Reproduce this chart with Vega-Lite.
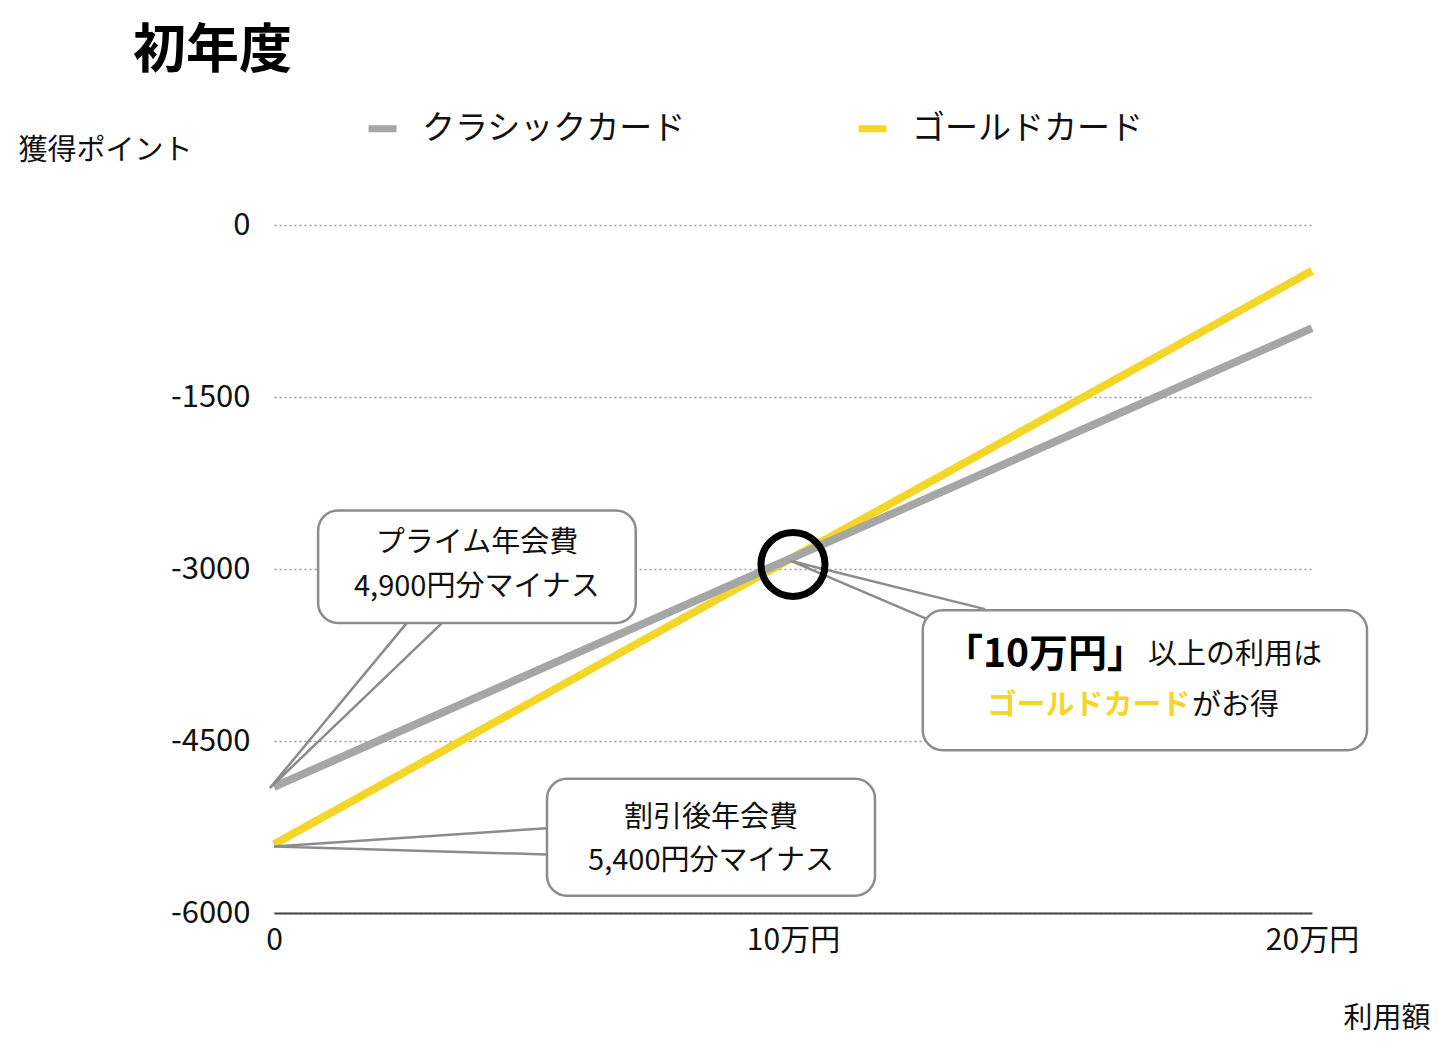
{
  "$schema": "https://vega.github.io/schema/vega-lite/v6.json",
  "width": 1038,
  "height": 688,
  "autosize": {"type": "none"},
  "padding": {"left": 274, "top": 225, "right": 138, "bottom": 139},
  "background": "white",
  "title": {
    "text": "初年度",
    "anchor": "start",
    "frame": "group",
    "dx": -141,
    "offset": 32,
    "fontSize": 53,
    "fontWeight": "bold",
    "font": "Noto Sans CJK JP",
    "color": "#000000"
  },
  "config": {
    "font": "Noto Sans CJK JP",
    "view": {"stroke": null},
    "axis": {"labelFont": "Noto Sans CJK JP", "titleFont": "Noto Sans CJK JP", "labelColor": "#111111", "titleColor": "#111111", "titleFontWeight": "normal"},
    "legend": {"labelFont": "Noto Sans CJK JP"}
  },
  "datasets": {
    "cards": [
      {"card": "ゴールドカード", "amount": 0, "points": -5400},
      {"card": "ゴールドカード", "amount": 200000, "points": -400},
      {"card": "クラシックカード", "amount": 0, "points": -4900},
      {"card": "クラシックカード", "amount": 200000, "points": -900}
    ],
    "tails": [
      {"tail": "prime", "ord": 1, "x": 25600, "y": -3470},
      {"tail": "prime", "ord": 2, "x": -800, "y": -4910},
      {"tail": "prime", "ord": 3, "x": 32400, "y": -3470},
      {"tail": "discount", "ord": 1, "x": 52600, "y": -5260},
      {"tail": "discount", "ord": 2, "x": 0, "y": -5420},
      {"tail": "discount", "ord": 3, "x": 52600, "y": -5490},
      {"tail": "cross", "ord": 1, "x": 137000, "y": -3350},
      {"tail": "cross", "ord": 2, "x": 99600, "y": -2930},
      {"tail": "cross", "ord": 3, "x": 126000, "y": -3440}
    ],
    "boxes": [
      {"box": "prime", "x": 8500, "x2": 69700, "y": -2490, "y2": -3470},
      {"box": "cross", "x": 125000, "x2": 210600, "y": -3360, "y2": -4580},
      {"box": "discount", "x": 52600, "x2": 115800, "y": -4830, "y2": -5850}
    ],
    "circle": [
      {"x": 100000, "y": -2960}
    ],
    "notes": [
      {"x": 39100, "y": -2773, "text": "プライム年会費"},
      {"x": 39100, "y": -3160, "text": "4,900円分マイナス"},
      {"x": 84200, "y": -5171, "text": "割引後年会費"},
      {"x": 84200, "y": -5546, "text": "5,400円分マイナス"}
    ],
    "boldNote": [
      {"x": 168000, "y": -3750, "text": "「10万円」"}
    ],
    "plainNote": [
      {"x": 168400, "y": -3750, "text": "以上の利用は"},
      {"x": 176900, "y": -4195, "text": "がお得"}
    ],
    "goldNote": [
      {"x": 176600, "y": -4195, "text": "ゴールドカード"}
    ]
  },
  "layer": [
    {
      "data": {"name": "cards"},
      "mark": {"type": "line", "strokeWidth": 8, "strokeCap": "butt"},
      "encoding": {
        "x": {
          "field": "amount", "type": "quantitative",
          "scale": {"domain": [0, 200000], "nice": false, "zero": false},
          "axis": {
            "values": [0, 100000, 200000],
            "labelExpr": "datum.value == 0 ? '0' : (datum.value / 10000) + '万円'",
            "labelFontSize": 30,
            "labelPadding": 12,
            "labelFlush": false,
            "ticks": false,
            "grid": false,
            "domain": true,
            "domainColor": "#444444",
            "domainWidth": 2,
            "title": "利用額",
            "titleFontSize": 29,
            "titleAngle": 0,
            "titleAlign": "right",
            "titleBaseline": "middle",
            "titleX": 1156,
            "titleY": 105
          }
        },
        "y": {
          "field": "points", "type": "quantitative",
          "scale": {"domain": [-6000, 0], "nice": false, "zero": false},
          "axis": {
            "values": [0, -1500, -3000, -4500, -6000],
            "labelExpr": "datum.value + ''",
            "labelFontSize": 31,
            "labelPadding": 24,
            "ticks": false,
            "domain": false,
            "grid": true,
            "gridDash": [2, 3],
            "gridColor": "#999999",
            "gridWidth": 1.5,
            "title": "獲得ポイント",
            "titleFontSize": 29,
            "titleAngle": 0,
            "titleAlign": "left",
            "titleBaseline": "middle",
            "titleX": -256,
            "titleY": -75
          }
        },
        "color": {
          "field": "card", "type": "nominal",
          "scale": {"domain": ["クラシックカード", "ゴールドカード"], "range": ["#a5a6a5", "#f4d629"]},
          "legend": {
            "title": null,
            "orient": "none",
            "direction": "horizontal",
            "legendX": 91,
            "legendY": -114,
            "symbolType": "stroke",
            "symbolSize": 784,
            "symbolStrokeWidth": 7,
            "labelFontSize": 33,
            "labelColor": "#111111",
            "labelOffset": 22,
            "columnPadding": 158,
            "labelLimit": 400
          }
        }
      }
    },
    {
      "data": {"name": "tails"},
      "mark": {"type": "line", "color": "#8a8c8e", "strokeWidth": 2.5, "strokeJoin": "miter"},
      "encoding": {
        "x": {"field": "x", "type": "quantitative"},
        "y": {"field": "y", "type": "quantitative"},
        "detail": {"field": "tail"},
        "order": {"field": "ord"}
      }
    },
    {
      "data": {"name": "boxes"},
      "mark": {"type": "rect", "fill": "white", "stroke": "#8a8c8e", "strokeWidth": 2.5, "cornerRadius": 20},
      "encoding": {
        "x": {"field": "x", "type": "quantitative"},
        "x2": {"field": "x2"},
        "y": {"field": "y", "type": "quantitative"},
        "y2": {"field": "y2"}
      }
    },
    {
      "data": {"name": "circle"},
      "mark": {"type": "point", "shape": "circle", "filled": false, "size": 4096, "stroke": "#000000", "strokeWidth": 7, "opacity": 1},
      "encoding": {
        "x": {"field": "x", "type": "quantitative"},
        "y": {"field": "y", "type": "quantitative"}
      }
    },
    {
      "data": {"name": "notes"},
      "mark": {"type": "text", "fontSize": 29, "align": "center", "baseline": "middle", "color": "#111111", "font": "Noto Sans CJK JP"},
      "encoding": {
        "x": {"field": "x", "type": "quantitative"},
        "y": {"field": "y", "type": "quantitative"},
        "text": {"field": "text"}
      }
    },
    {
      "data": {"name": "boldNote"},
      "mark": {"type": "text", "fontSize": 39, "fontWeight": "bold", "align": "right", "baseline": "middle", "color": "#000000", "font": "Noto Sans CJK JP"},
      "encoding": {
        "x": {"field": "x", "type": "quantitative"},
        "y": {"field": "y", "type": "quantitative"},
        "text": {"field": "text"}
      }
    },
    {
      "data": {"name": "plainNote"},
      "mark": {"type": "text", "fontSize": 29, "align": "left", "baseline": "middle", "color": "#111111", "font": "Noto Sans CJK JP"},
      "encoding": {
        "x": {"field": "x", "type": "quantitative"},
        "y": {"field": "y", "type": "quantitative"},
        "text": {"field": "text"}
      }
    },
    {
      "data": {"name": "goldNote"},
      "mark": {"type": "text", "fontSize": 29, "fontWeight": "bold", "align": "right", "baseline": "middle", "color": "#f4d629", "font": "Noto Sans CJK JP"},
      "encoding": {
        "x": {"field": "x", "type": "quantitative"},
        "y": {"field": "y", "type": "quantitative"},
        "text": {"field": "text"}
      }
    }
  ]
}
